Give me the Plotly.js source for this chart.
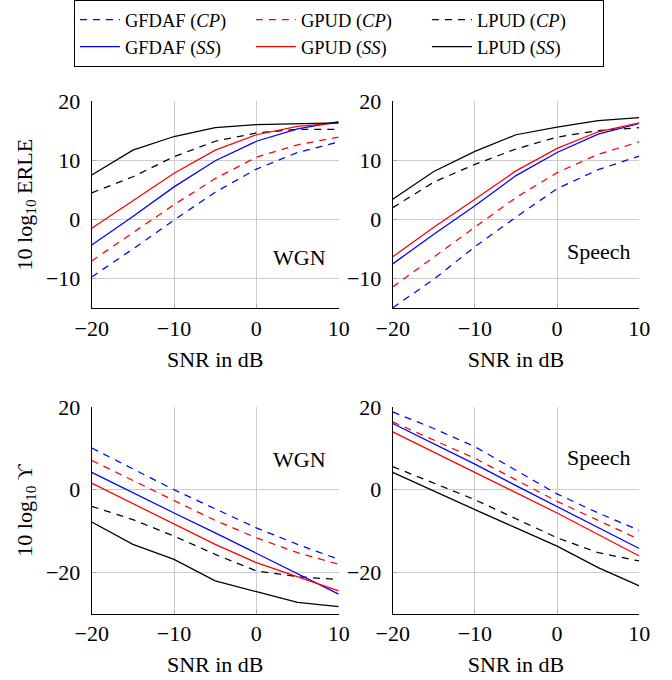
<!DOCTYPE html>
<html>
<head>
<meta charset="utf-8">
<script src="https://cdn.plot.ly/plotly-3.0.1.min.js"></script>
<style>html,body{margin:0;padding:0;background:#fff;}#chart{width:672px;height:680px;}</style>
</head>
<body>
<div id="chart"></div>
<script>
// SNR values (dB)
const snr = [-20, -15, -10, -5, 0, 5, 10];

// Series names
const seriesNames = ["GFDAF (<i>CP</i>)", "GPUD (<i>CP</i>)", "LPUD (<i>CP</i>)",
                     "GFDAF (<i>SS</i>)", "GPUD (<i>SS</i>)", "LPUD (<i>SS</i>)"];

// 10 log10 ERLE, WGN
const erleWgnGfdafCP = [-9.7, -5.0, -0.1, 4.6, 8.5, 11.3, 13.1];
const erleWgnGpudCP  = [-7.0, -2.3, 2.5, 6.9, 10.5, 12.6, 13.9];
const erleWgnLpudCP  = [4.5, 7.2, 10.6, 13.2, 14.6, 15.2, 15.2];
const erleWgnGfdafSS = [-4.3, 0.5, 5.5, 9.9, 13.2, 15.3, 16.5];
const erleWgnGpudSS  = [-1.5, 3.2, 7.8, 11.7, 14.3, 15.7, 16.3];
const erleWgnLpudSS  = [7.5, 11.7, 14.0, 15.5, 16.0, 16.2, 16.3];

// 10 log10 ERLE, Speech
const erleSpGfdafCP = [-14.9, -10.1, -4.6, 0.4, 5.2, 8.4, 10.7];
const erleSpGpudCP  = [-11.4, -6.3, -1.3, 3.7, 7.9, 11.0, 13.1];
const erleSpLpudCP  = [2.0, 6.3, 9.3, 11.9, 13.9, 15.0, 15.5];
const erleSpGfdafSS = [-7.5, -2.5, 2.3, 7.4, 11.3, 14.4, 16.2];
const erleSpGpudSS  = [-6.3, -1.3, 3.4, 8.2, 12.0, 14.8, 16.3];
const erleSpLpudSS  = [3.4, 8.1, 11.5, 14.3, 15.6, 16.7, 17.2];

// 10 log10 Upsilon, WGN
const upsWgnGfdafCP = [10.1, 5.0, 0.0, -4.6, -9.2, -13.2, -16.8];
const upsWgnGpudCP  = [7.1, 2.2, -2.6, -7.4, -11.6, -15.2, -18.0];
const upsWgnLpudCP  = [-4.0, -7.2, -11.2, -15.6, -19.6, -21.0, -21.7];
const upsWgnGfdafSS = [4.2, -0.8, -5.6, -10.4, -15.4, -20.4, -25.2];
const upsWgnGpudSS  = [1.6, -3.4, -8.2, -13.2, -17.6, -21.0, -24.4];
const upsWgnLpudSS  = [-7.8, -13.2, -16.8, -22.0, -24.6, -27.2, -28.2];

// 10 log10 Upsilon, Speech
const upsSpGfdafCP = [18.8, 14.8, 10.4, 4.8, -1.0, -5.6, -9.8];
const upsSpGpudCP  = [16.4, 12.0, 7.6, 2.4, -2.8, -7.4, -12.0];
const upsSpLpudCP  = [5.6, 1.6, -2.4, -7.0, -11.6, -15.2, -17.2];
const upsSpGfdafSS = [16.0, 11.1, 6.2, 1.0, -4.0, -9.0, -14.2];
const upsSpGpudSS  = [14.0, 9.1, 4.2, -0.6, -5.6, -10.8, -16.0];
const upsSpLpudSS  = [4.2, -0.4, -4.8, -9.2, -13.6, -18.8, -23.2];

const colors = ["#0000ff", "#ff0000", "#000000", "#0000ff", "#ff0000", "#000000"];
const dashes = ["7px,6px", "7px,6px", "7px,6px", "solid", "solid", "solid"];

const panels = [
  {xa: "x",  ya: "y",  data: [erleWgnGfdafCP, erleWgnGpudCP, erleWgnLpudCP, erleWgnGfdafSS, erleWgnGpudSS, erleWgnLpudSS]},
  {xa: "x2", ya: "y2", data: [erleSpGfdafCP, erleSpGpudCP, erleSpLpudCP, erleSpGfdafSS, erleSpGpudSS, erleSpLpudSS]},
  {xa: "x3", ya: "y3", data: [upsWgnGfdafCP, upsWgnGpudCP, upsWgnLpudCP, upsWgnGfdafSS, upsWgnGpudSS, upsWgnLpudSS]},
  {xa: "x4", ya: "y4", data: [upsSpGfdafCP, upsSpGpudCP, upsSpLpudCP, upsSpGfdafSS, upsSpGpudSS, upsSpLpudSS]}
];

const traces = [];
panels.forEach((p, pi) => {
  p.data.forEach((ys, si) => {
    traces.push({
      x: snr, y: ys, xaxis: p.xa, yaxis: p.ya,
      type: "scatter", mode: "lines",
      name: seriesNames[si],
      showlegend: pi === 0,
      line: {color: colors[si], width: 1.25, dash: dashes[si]}
    });
  });
});

const FONT = "Liberation Serif";
const tickFont = {family: FONT, size: 22, color: "#000"};
const titleFont = {family: FONT, size: 22, color: "#000"};

function xax(domain, anchor) {
  return {
    domain: domain, anchor: anchor, range: [-20, 10], tick0: 0, dtick: 10,
    showline: true, linecolor: "#000", linewidth: 1,
    showgrid: true, gridcolor: "#cccccc", gridwidth: 1, zeroline: false,
    ticks: "inside", ticklen: 4, tickcolor: "#aaaaaa",
    tickfont: tickFont,
    title: {text: "SNR in dB", font: titleFont, standoff: 11},
    fixedrange: true
  };
}
function yax(domain, anchor, range, title) {
  const a = {
    domain: domain, anchor: anchor, range: range, tick0: 0, dtick: range[0] === -30 ? 20 : 10,
    showline: true, linecolor: "#000", linewidth: 1,
    showgrid: true, gridcolor: "#cccccc", gridwidth: 1, zeroline: false,
    ticks: "inside", ticklen: 4, tickcolor: "#aaaaaa",
    tickfont: tickFont, ticklabelstandoff: 6,
    fixedrange: true
  };
  if (title) a.title = {text: title, font: titleFont, standoff: 7};
  return a;
}

const xL = [0.1365, 0.504], xR = [0.5844, 0.9513];
const yT = [0.5466, 0.8515], yB = [0.0971, 0.4015];

const annFont = {family: FONT, size: 22, color: "#000"};
const layout = {
  width: 672, height: 680,
  margin: {l: 0, r: 0, t: 0, b: 0},
  paper_bgcolor: "#fff", plot_bgcolor: "#fff",
  font: {family: FONT, color: "#000"},
  xaxis: xax(xL, "y"),
  yaxis: yax(yT, "x", [-15, 20], "10 log<sub>10</sub> ERLE"),
  xaxis2: xax(xR, "y2"),
  yaxis2: yax(yT, "x2", [-15, 20], null),
  xaxis3: xax(xL, "y3"),
  yaxis3: yax(yB, "x3", [-30, 20], "10 log<sub>10</sub> ϒ"),
  xaxis4: xax(xR, "y4"),
  yaxis4: yax(yB, "x4", [-30, 20], null),
  showlegend: true,
  legend: {
    orientation: "h", x: 0.11, xanchor: "left", y: 1.0, yanchor: "top",
    bordercolor: "#000", borderwidth: 1, bgcolor: "#fff",
    font: {family: FONT, size: 18.5, color: "#000"},
    entrywidth: 121, entrywidthmode: "pixels", traceorder: "normal",
    itemwidth: 40
  },
  annotations: [
    {xref: "x", yref: "y", x: 5.3, y: -6.4, text: "WGN", showarrow: false, font: annFont},
    {xref: "x2", yref: "y2", x: 5.1, y: -5.4, text: "Speech", showarrow: false, font: annFont},
    {xref: "x3", yref: "y3", x: 5.3, y: 7.2, text: "WGN", showarrow: false, font: annFont},
    {xref: "x4", yref: "y4", x: 5.1, y: 7.8, text: "Speech", showarrow: false, font: annFont}
  ]
};

Plotly.newPlot("chart", traces, layout, {displayModeBar: false, staticPlot: true});
</script>
</body>
</html>
